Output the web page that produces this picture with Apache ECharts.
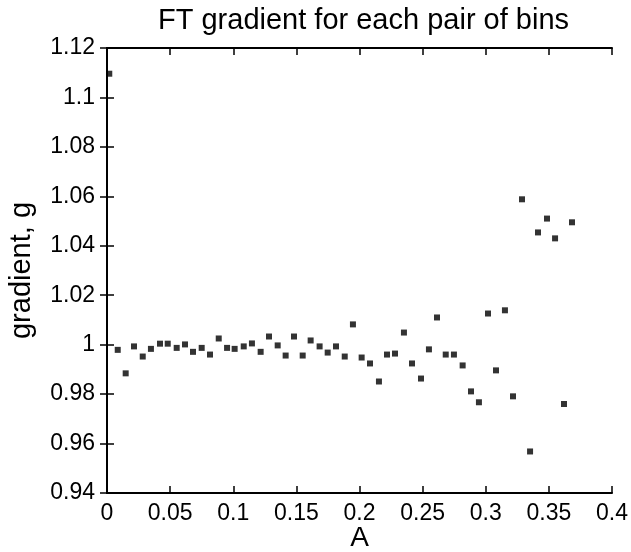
<!DOCTYPE html>
<html>
<head>
<meta charset="utf-8">
<script src="https://cdn.jsdelivr.net/npm/echarts@6/dist/echarts.min.js"></script>
<style>html,body{margin:0;padding:0;background:#fff;}#c{width:631px;height:552px;}</style>
</head>
<body>
<div id="c"></div>
<script>
var titleText = 'FT gradient for each pair of bins';
var xName = 'A';
var yName = 'gradient, g';
var xValues = [0.0018,0.0085,0.0148,0.0214,0.0283,0.0348,0.0420,0.0481,0.0552,0.0618,0.0681,0.0750,0.0816,0.0885,0.0951,0.1011,0.1083,0.1148,0.1217,0.1283,0.1352,0.1415,0.1481,0.1550,0.1613,0.1684,0.1748,0.1814,0.1883,0.1948,0.2017,0.2083,0.2154,0.2218,0.2281,0.2352,0.2416,0.2487,0.2550,0.2614,0.2683,0.2748,0.2817,0.2883,0.2946,0.3018,0.3081,0.3152,0.3216,0.3287,0.3351,0.3414,0.3485,0.3549,0.3620,0.3683];
var gValues = [1.1096,0.9979,0.9884,0.9993,0.9952,0.9983,1.0004,1.0004,0.9987,1.0001,0.9971,0.9987,0.9960,1.0025,0.9987,0.9983,0.9993,1.0005,0.9971,1.0033,0.9997,0.9956,1.0033,0.9956,1.0017,0.9993,0.9968,0.9993,0.9952,1.0082,0.9948,0.9924,0.9851,0.9960,0.9964,1.0049,0.9924,0.9863,0.9981,1.0110,0.9960,0.9960,0.9916,0.9811,0.9767,1.0126,0.9896,1.0139,0.9791,1.0588,0.9568,1.0454,1.0510,1.0430,0.9760,1.0495];
var xMin = 0, xMax = 0.4, xStep = 0.05;
var yMin = 0.94, yMax = 1.12, yStep = 0.02;

var font = 'Liberation Sans, Arial, Helvetica, sans-serif';
var points = xValues.map(function (x, i) { return [x, gValues[i]]; });

function fmt(v) { return String(Math.round(v * 1000) / 1000); }

var tick = { show: true, inside: true, length: 7, lineStyle: { color: '#000', width: 1.5 } };
var line = { show: true, lineStyle: { color: '#000', width: 2 } };

var chart = echarts.init(document.getElementById('c'), null, { renderer: 'canvas' });
chart.setOption({
  animation: false,
  backgroundColor: '#fff',
  title: {
    text: titleText, left: 153, top: 1,
    textStyle: { fontFamily: font, fontSize: 29, fontWeight: 'normal', color: '#000' }
  },
  grid: { left: 107, right: 19, top: 48, bottom: 59, show: false, containLabel: false, outerBoundsMode: 'none' },
  xAxis: [{
    type: 'value', min: xMin, max: xMax, interval: xStep, position: 'bottom',
    name: xName, nameLocation: 'middle', nameGap: 31, nameMoveOverlap: false,
    nameTextStyle: { fontFamily: font, fontSize: 28, color: '#000' },
    axisLine: line, axisTick: tick, splitLine: { show: false },
    axisLabel: { fontFamily: font, fontSize: 23, color: '#000', margin: 9, formatter: fmt }
  }, {
    type: 'value', min: xMin, max: xMax, interval: xStep, position: 'top',
    axisLine: line, axisTick: tick, splitLine: { show: false }, axisLabel: { show: false }
  }],
  yAxis: [{
    type: 'value', min: yMin, max: yMax, interval: yStep, position: 'left',
    name: yName, nameLocation: 'middle', nameGap: 71, nameRotate: 90, nameMoveOverlap: false,
    nameTextStyle: { fontFamily: font, fontSize: 29, color: '#000' },
    axisLine: line, axisTick: tick, splitLine: { show: false },
    axisLabel: { fontFamily: font, fontSize: 23, color: '#000', margin: 12, formatter: fmt }
  }, {
    type: 'value', min: yMin, max: yMax, interval: yStep, position: 'right',
    axisLine: line, axisTick: tick, splitLine: { show: false }, axisLabel: { show: false }
  }],
  series: [{
    type: 'scatter', xAxisIndex: 0, yAxisIndex: 0,
    symbol: 'rect', symbolSize: 6,
    itemStyle: { color: '#000' },
    data: points
  }]
});
</script>
</body>
</html>
